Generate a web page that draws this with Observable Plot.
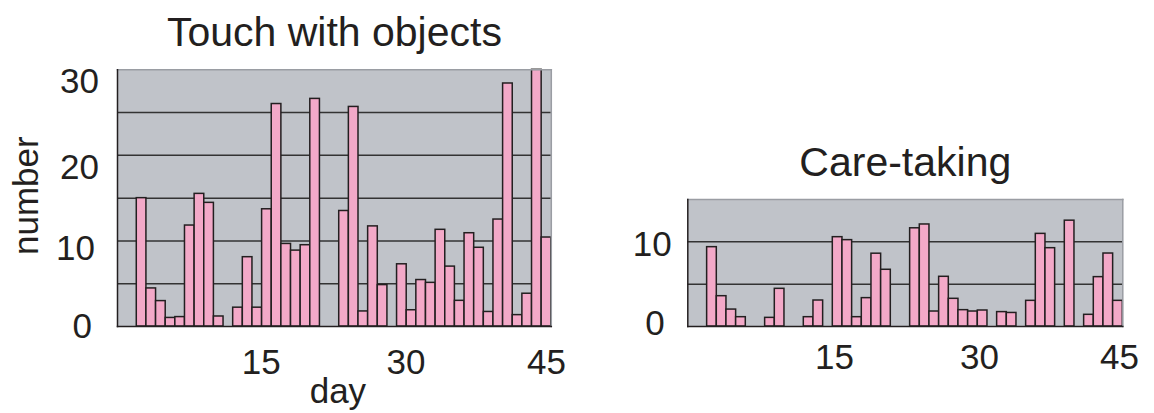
<!DOCTYPE html>
<html><head><meta charset="utf-8">
<script src="https://cdn.jsdelivr.net/npm/d3@7"></script>
<script src="https://cdn.jsdelivr.net/npm/@observablehq/plot@0.6"></script>
<style>
html,body{margin:0;padding:0;background:#fff;}
#wrap{position:relative;width:1154px;height:413px;overflow:hidden;}
#wrap svg{position:absolute;top:0;}
</style></head><body><div id="wrap"></div>
<script>
// ---- data ----
const days = d3.range(1, 46);
const touchValues = [0, 0, 15.0, 4.45, 2.97, 1.0, 1.1, 11.8, 15.5, 14.45,
  1.17, 0, 2.2, 8.1, 2.2, 13.7, 26.0, 9.65, 8.87, 9.5,
  26.6, 0, 0, 13.5, 25.66, 1.76, 11.7, 4.84, 0, 7.27,
  1.9, 5.43, 5.1, 11.3, 7.0, 3.0, 10.9, 9.2, 1.7, 12.5,
  28.4, 1.33, 3.83, 30.0, 10.4];
const careValues = [0, 0, 9.37, 3.58, 2.0, 1.1, 0, 0, 1.02, 4.45,
  0, 0, 1.1, 3.07, 0, 10.55, 10.2, 1.1, 3.35, 8.6,
  6.7, 0, 0, 11.6, 12.05, 1.77, 5.87, 3.27, 1.93, 1.77,
  1.89, 0, 1.7, 1.6, 0, 3.03, 10.94, 9.25, 0, 12.5,
  0, 1.38, 5.83, 8.62, 3.03];
const touchYTicks = [0, 10, 20, 30];
const careYTicks = [0, 10];
const xTickLabels = [15, 30, 45];
const titles = ["Touch with objects", "Care-taking"];
const yLabel = "number";
const xLabel = "day";

// ---- style ----
const font = "'Liberation Sans', Arial, Helvetica, sans-serif";
const ink = "#231f20";
const bg = "#c0c3c9";
const pink = "#f3a9c8";
const W = 577, H = 413;

function panel(o) {
  const data = days.map((d, i) => ({day: d, v: o.values[i]})).filter(d => d.v > 0);
  const marks = [
    Plot.frame({fill: bg, stroke: null}),
    Plot.ruleY(d3.range(5, o.yMax, 5), {stroke: "#333333", strokeWidth: 1.5}),
    Plot.barY(data, {x: "day", y: "v", fill: pink, stroke: ink, strokeWidth: 1.5, inset: 0}),
    Plot.frame({anchor: "top", stroke: "#9a9da3", strokeWidth: 1.5}),
    Plot.frame({anchor: "right", stroke: "#9a9da3", strokeWidth: 1.5}),
    Plot.frame({anchor: "left", stroke: ink, strokeWidth: 1.5}),
    Plot.frame({anchor: "bottom", stroke: ink, strokeWidth: 1.5}),
    Plot.text([o.title], {text: d => d, frameAnchor: "top", lineAnchor: "bottom", dy: -24, fontSize: 41, fill: ink})
  ];
  o.yTicks.forEach(t => {
    const n = o.yNudge[t] || [0, 0];
    marks.push(Plot.axisY([t], {tickSize: 0, tickPadding: o.yPad, dx: n[0], dy: n[1], fontSize: 35, fill: ink, label: null}));
  });
  xTickLabels.forEach(t => {
    const n = o.xNudge[t] || 0;
    marks.push(Plot.axisX([t], {tickSize: 0, tickPadding: o.xPad, dx: n, fontSize: 35, fill: ink, label: null}));
  });
  if (o.labels) {
    marks.push(Plot.text([yLabel], {text: d => d, frameAnchor: "left", textAnchor: "middle", rotate: -90, lineAnchor: "bottom", dx: -80, dy: -2.5, fontSize: 35, fill: ink}));
    marks.push(Plot.text([xLabel], {text: d => d, frameAnchor: "bottom", textAnchor: "middle", lineAnchor: "bottom", dx: 3.5, dy: 76, fontSize: 35, fill: ink}));
  }
  const svg = Plot.plot({
    width: W, height: H,
    marginLeft: o.mL, marginRight: o.mR, marginTop: o.mT, marginBottom: 87,
    style: {fontFamily: font, background: "transparent", overflow: "visible"},
    x: {type: "band", domain: days, padding: 0, round: false, axis: null},
    y: {domain: [0, o.yMax], axis: null},
    marks
  });
  svg.style.left = o.left + "px";
  return svg;
}

const wrap = document.getElementById("wrap");
wrap.appendChild(panel({
  values: touchValues, yMax: 30, yTicks: touchYTicks, title: titles[0],
  mL: 117, mR: 26.2, mT: 69.3, left: 0, yPad: 18.5, xPad: 22.5,
  yNudge: {0: [-7, 0.5], 10: [-4, 8], 20: [0, 12], 30: [0, 12]},
  xNudge: {15: 4, 30: 4, 45: 0},
  labels: true
}));
wrap.appendChild(panel({
  values: careValues, yMax: 15, yTicks: careYTicks, title: titles[1],
  mL: 110.3, mR: 31.7, mT: 199, left: 577, yPad: 16,
  xPad: 17.5,
  yNudge: {0: [-7, -2.5], 10: [0, 3]},
  xNudge: {15: 6.5, 30: 6.5, 45: 1.5},
  labels: false
}));
</script></body></html>
